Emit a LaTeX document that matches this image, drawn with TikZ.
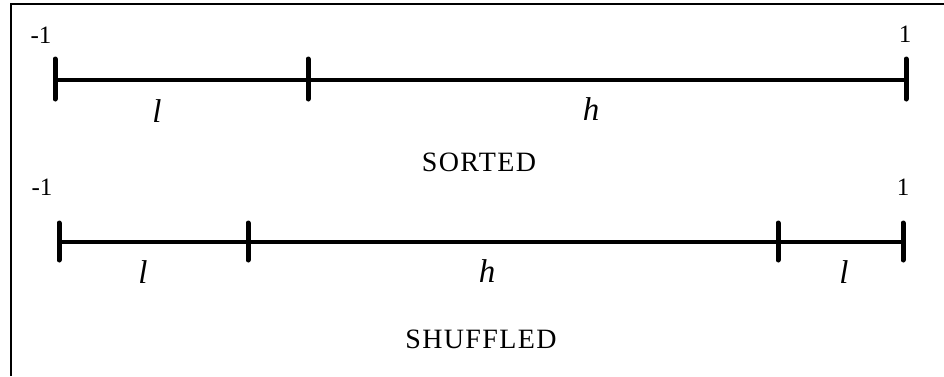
\documentclass[tikz,border=0pt]{standalone}
\usepackage{fontspec}
\setmainfont{Liberation Serif}
\begin{document}
\begin{tikzpicture}[x=1pt,y=-1pt,
  axisline/.style={line width=4pt},
  tickmark/.style={line width=5pt,line cap=round},
  endlabel/.style={anchor=base,inner sep=0pt,font=\fontsize{25}{28}\selectfont},
  seglabel/.style={anchor=base,inner sep=0pt,font=\fontsize{33}{36}\selectfont\itshape},
  caption/.style={anchor=base,inner sep=0pt,font=\fontsize{28}{31}\selectfont\addfontfeature{LetterSpace=5}}]
\useasboundingbox (0,0) rectangle (944,376);
% open frame: top and left edges only
\draw[line width=2pt] (11,376) -- (11,4) -- (944,4);

% sorted interval
\coordinate (a0) at (55,80);
\coordinate (a1) at (308,80);
\coordinate (a2) at (906,80);
\draw[axisline] (a0) -- (a2);
\foreach \p in {a0,a1,a2}
  \draw[tickmark] ([yshift=-19pt]\p) -- ([yshift=21pt]\p);
\node[endlabel] (am) at (41,43) {-1};
\node[endlabel] (ap) at (905,42) {1};
\node[seglabel] (al) at (157,122) {l};
\node[seglabel] (ah) at (591,120) {h};
\node[caption] (sorted) at (479,171) {SORTED};

% shuffled interval
\coordinate (b0) at (59,242);
\coordinate (b1) at (248,242);
\coordinate (b2) at (778,242);
\coordinate (b3) at (903,242);
\draw[axisline] (b0) -- (b3);
\foreach \p in {b0,b1,b2,b3}
  \draw[tickmark] ([yshift=-18pt]\p) -- ([yshift=19pt]\p);
\node[endlabel] (bm) at (42,195) {-1};
\node[endlabel] (bp) at (903,195) {1};
\node[seglabel] (bl1) at (143,283) {l};
\node[seglabel] (bh) at (487,282) {h};
\node[seglabel] (bl2) at (844,283) {l};
\node[caption] (shuffled) at (481,348) {SHUFFLED};
\end{tikzpicture}
\end{document}
